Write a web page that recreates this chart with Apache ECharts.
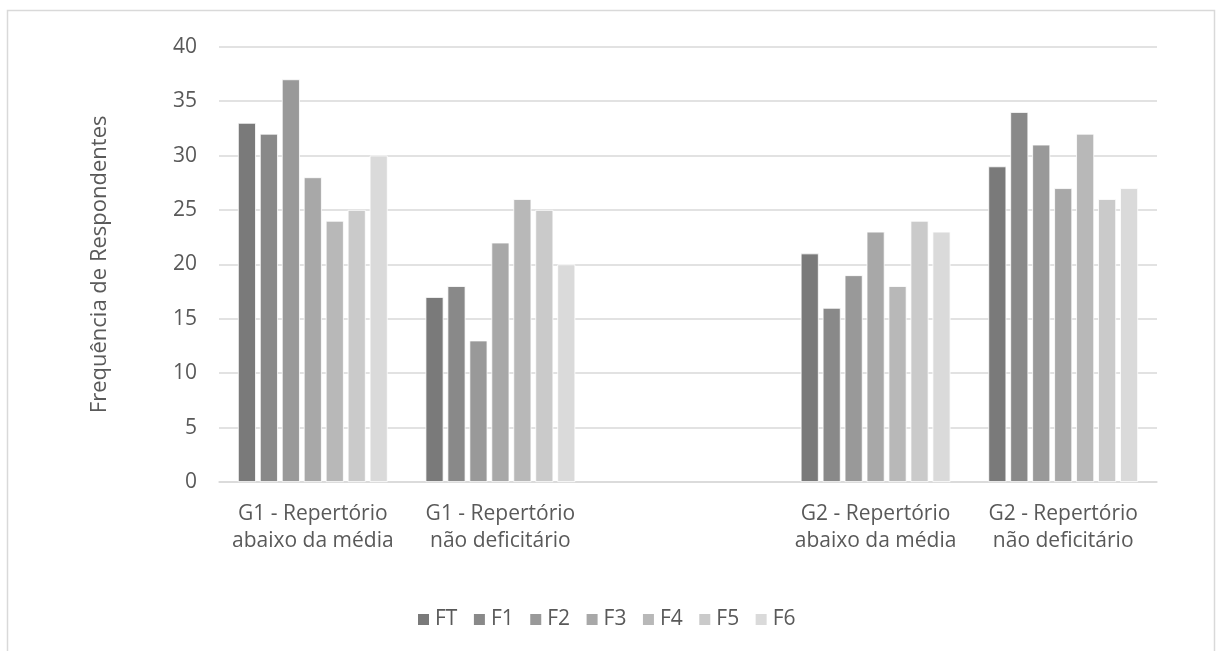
<!DOCTYPE html>
<html>
<head>
<meta charset="utf-8">
<script src="https://cdn.jsdelivr.net/npm/echarts@6/dist/echarts.min.js"></script>
<style>
  html, body { margin: 0; padding: 0; background: #ffffff; }
  #chart { width: 1216px; height: 651px; }
</style>
</head>
<body>
<div id="chart"></div>
<script>
// Group categories (the empty slot separates G1 from G2)
const categories = [
  'G1 - Repertório\nabaixo da média',
  'G1 - Repertório\nnão deficitário',
  '',
  'G2 - Repertório\nabaixo da média',
  'G2 - Repertório\nnão deficitário'
];

// Factor series
const seriesNames = ['FT', 'F1', 'F2', 'F3', 'F4', 'F5', 'F6'];
const FT = [33, 17, null, 21, 29];
const F1 = [32, 18, null, 16, 34];
const F2 = [37, 13, null, 19, 31];
const F3 = [28, 22, null, 23, 27];
const F4 = [24, 26, null, 18, 32];
const F5 = [25, 25, null, 24, 26];
const F6 = [30, 20, null, 23, 27];
const seriesValues = [FT, F1, F2, F3, F4, F5, F6];

// Y axis ticks
const yTicks = [0, 5, 10, 15, 20, 25, 30, 35, 40];

const colors = ['#7a7a7a', '#898989', '#999999', '#a8a8a8', '#b8b8b8', '#cacaca', '#dadada'];
const textColor = '#595959';
const fontFamily = '"Open Sans", Lato, sans-serif';

const chart = echarts.init(document.getElementById('chart'), null, { renderer: 'canvas' });

chart.setOption({
  animation: false,
  backgroundColor: '#ffffff',
  color: colors,
  textStyle: { fontFamily: fontFamily, color: textColor },
  graphic: [{
    type: 'rect',
    shape: { x: 7.5, y: 10.5, width: 1207, height: 660 },
    style: { fill: 'none', stroke: '#d9d9d9', lineWidth: 1.5 },
    silent: true,
    z: -1
  }],
  grid: { left: 219, right: 59, top: 46.7, bottom: 169, containLabel: false },
  legend: {
    data: seriesNames,
    left: 411,
    top: 604,
    padding: 5,
    itemWidth: 13,
    itemHeight: 13,
    itemGap: 14.5,
    icon: 'rect',
    textStyle: { fontSize: 21, color: textColor, fontFamily: fontFamily }
  },
  xAxis: {
    type: 'category',
    data: categories,
    axisLine: { show: true, lineStyle: { color: '#d9d9d9', width: 1.5 } },
    axisTick: { show: false },
    axisLabel: {
      interval: 0,
      fontSize: 21,
      lineHeight: 27,
      color: textColor,
      margin: 19,
      fontFamily: fontFamily
    }
  },
  yAxis: {
    type: 'value',
    min: yTicks[0],
    max: yTicks[yTicks.length - 1],
    interval: yTicks[1] - yTicks[0],
    name: 'Frequência de Respondentes',
    nameLocation: 'middle',
    nameGap: 108,
    nameTextStyle: { fontSize: 22, color: textColor, fontFamily: fontFamily },
    axisLine: { show: false },
    axisTick: { show: false },
    axisLabel: { fontSize: 21, color: textColor, margin: 22, fontFamily: fontFamily },
    splitLine: { lineStyle: { color: '#d9d9d9', width: 1.5 } }
  },
  series: seriesNames.map((name, i) => ({
    name: name,
    type: 'bar',
    data: seriesValues[i],
    barWidth: 18,
    barGap: '22%',
    itemStyle: { color: colors[i], borderColor: '#ffffff', borderWidth: 0.8 }
  }))
});
</script>
</body>
</html>
